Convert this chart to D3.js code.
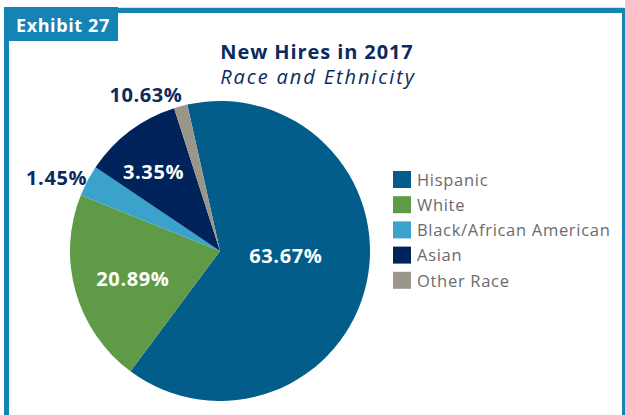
<!DOCTYPE html>
<html>
<head>
<meta charset="utf-8">
<script src="https://d3js.org/d3.v7.min.js"></script>
<style>
  html, body { margin: 0; padding: 0; background: #fff; }
  svg { display: block; font-family: 'Open Sans', sans-serif; }
</style>
</head>
<body>
<div id="chart"></div>
<script>
// data
var categories = ['Hispanic', 'White', 'Black/African American', 'Asian', 'Other Race'];
var shares = [63.67, 20.89, 3.35, 10.63, 1.45];
// labels exactly as printed on the original slices
var sliceLabels = ['63.67%', '20.89%', '1.45%', '3.35%', '10.63%'];
var colors = ['#025d8a', '#5f9b47', '#3ba3cb', '#00235c', '#9b968a'];

var W = 625, H = 415;
var svg = d3.select('#chart').append('svg').attr('width', W).attr('height', H);

// frame + tab
var blue = '#1384b4';
svg.append('rect').attr('x', 4).attr('y', 7).attr('width', 620).attr('height', 4).attr('fill', '#cfe3ee');
svg.append('rect').attr('x', 4).attr('y', 8).attr('width', 621).attr('height', 5).attr('fill', blue);
svg.append('rect').attr('x', 4).attr('y', 8).attr('width', 5).attr('height', H).attr('fill', blue);
svg.append('rect').attr('x', 622).attr('y', 8).attr('width', 3).attr('height', H).attr('fill', blue);
svg.append('rect').attr('x', 4).attr('y', 7).attr('width', 114).attr('height', 34).attr('fill', blue);
svg.append('text').attr('x', 16).attr('y', 32)
  .attr('fill', '#fff').attr('font-size', 18).attr('font-weight', 700)
  .attr('letter-spacing', 0.6)
  .text('Exhibit 27');

// titles
var navy = '#0b2a5f';
svg.append('text').attr('x', 317).attr('y', 59).attr('text-anchor', 'middle')
  .attr('fill', navy).attr('font-size', 20).attr('font-weight', 700)
  .attr('letter-spacing', 0.9)
  .text('New Hires in 2017');
svg.append('text').attr('x', 318).attr('y', 84).attr('text-anchor', 'middle')
  .attr('fill', navy).attr('font-size', 20).attr('font-style', 'italic')
  .attr('letter-spacing', 1.9)
  .text('Race and Ethnicity');

// pie
var cx = 220, cy = 251, r = 150;
var deg = Math.PI / 180;
var pie = d3.pie().sort(null).startAngle(-12.6 * deg).endAngle(347.4 * deg);
var arcs = pie(shares);
var arc = d3.arc().innerRadius(0).outerRadius(r);

var g = svg.append('g').attr('transform', 'translate(' + cx + ',' + cy + ')');
g.selectAll('path').data(arcs).enter().append('path')
  .attr('d', arc)
  .attr('fill', function(d, i) { return colors[i]; });

// label placement: fraction of radius, inside or outside
var labelPos = [
  {k: 0.44, shift: -8, dx: 0, inside: true},
  {k: 0.61, shift: -2, dx: 0, inside: true},
  {k: 1.04, shift: 0, dx: 5, inside: false},
  {k: 0.69, shift: -3, dx: 0, inside: true},
  {k: 1.08, shift: 0, dx: 5, inside: false}
];
g.selectAll('text.lbl').data(arcs).enter().append('text')
  .attr('class', 'lbl')
  .each(function(d, i) {
    var p = labelPos[i];
    var a = (d.startAngle + d.endAngle) / 2 + p.shift * deg;
    var x = Math.sin(a) * r * p.k + p.dx, y = -Math.cos(a) * r * p.k;
    d3.select(this)
      .attr('x', x).attr('y', y)
      .attr('dy', '0.35em')
      .attr('text-anchor', p.inside ? 'middle' : 'end')
      .attr('fill', p.inside ? '#fff' : navy);
  })
  .attr('font-size', 20).attr('font-weight', 700)
  .attr('letter-spacing', 0.6)
  .text(function(d, i) { return sliceLabels[i]; });

// legend
var leg = svg.append('g').attr('transform', 'translate(393,171)');
var row = leg.selectAll('g').data(categories).enter().append('g')
  .attr('transform', function(d, i) { return 'translate(0,' + (i * 25.2) + ')'; });
row.append('rect').attr('width', 18).attr('height', 17)
  .attr('fill', function(d, i) { return colors[i]; });
row.append('text').attr('x', 24).attr('y', 9).attr('dy', '0.35em')
  .attr('fill', '#6b6b6b').attr('font-size', 16.5)
  .attr('letter-spacing', 0.7)
  .text(function(d) { return d; });
</script>
</body>
</html>
